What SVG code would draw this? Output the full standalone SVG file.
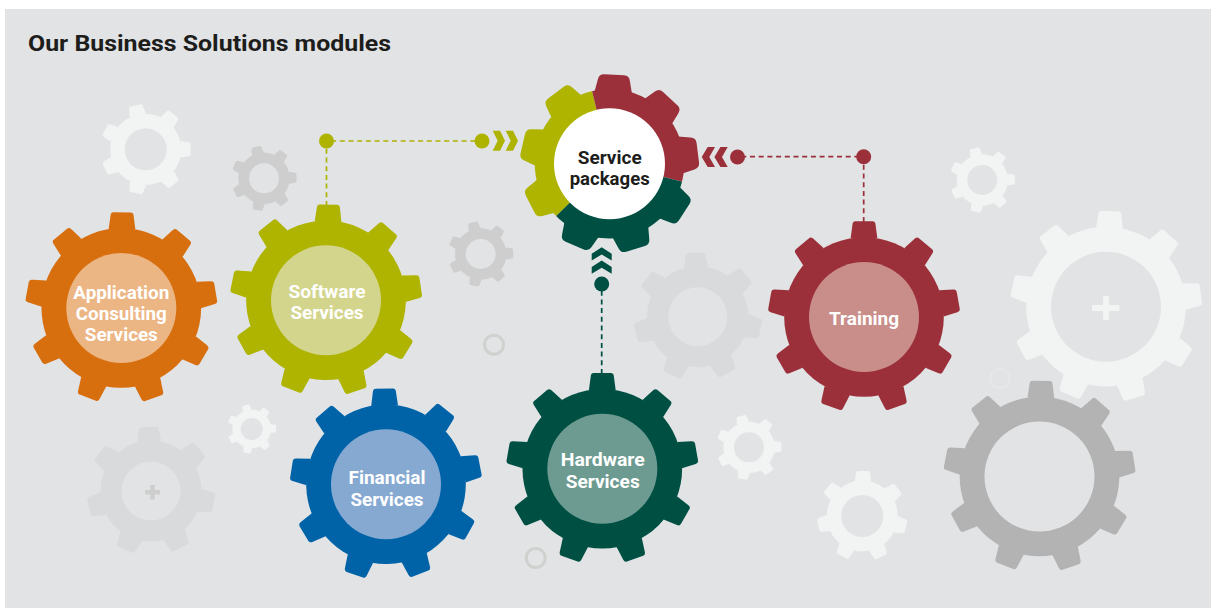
<svg xmlns="http://www.w3.org/2000/svg" width="1211" height="608" viewBox="0 0 1211 608">
<style>
text{font-family:Roboto,"Liberation Sans",sans-serif;font-weight:700;text-anchor:middle;fill:#fff;font-size:18.500px}
.dark{fill:#1d1d1b}
.title{text-anchor:start;font-size:22.500px;fill:#1d1d1b}
.hole{fill:#e1e3e5}
.ring{fill:none;stroke-width:3}
.lnk{fill:none;stroke-width:1.7;stroke-dasharray:5 3.7}
.w{fill:#f2f3f3}.g1{fill:#cdcecd}.g2{fill:#d9dadb}.g3{fill:#b3b3b3}
</style>
<defs>
<path id="t9" d="M-14-82L-12-97Q-11.600-100-9-100L9-100Q11.600-100 12-97L14-82Z"/>
<g id="gear9"><circle r="83.400"/><use href="#t9"/><use href="#t9" transform="rotate(40)"/><use href="#t9" transform="rotate(80)"/><use href="#t9" transform="rotate(120)"/><use href="#t9" transform="rotate(160)"/><use href="#t9" transform="rotate(200)"/><use href="#t9" transform="rotate(240)"/><use href="#t9" transform="rotate(280)"/><use href="#t9" transform="rotate(320)"/></g>
<path id="tS" d="M-21-80L-18-94Q-17-100-11-100L11-100Q17-100 18-94L21-80Z"/>
<g id="gearS"><circle r="84"/><use href="#tS"/><use href="#tS" transform="rotate(40)"/><use href="#tS" transform="rotate(80)"/><use href="#tS" transform="rotate(120)"/><use href="#tS" transform="rotate(160)"/><use href="#tS" transform="rotate(200)"/><use href="#tS" transform="rotate(240)"/><use href="#tS" transform="rotate(280)"/><use href="#tS" transform="rotate(320)"/></g>
<path id="t7" d="M-18.500-77L-15.500-96Q-15-100-11-100L11-100Q15-100 15.500-96L18.500-77Z"/>
<g id="gear7"><circle r="79"/><use href="#t7"/><use href="#t7" transform="rotate(51.430)"/><use href="#t7" transform="rotate(102.860)"/><use href="#t7" transform="rotate(154.290)"/><use href="#t7" transform="rotate(205.710)"/><use href="#t7" transform="rotate(257.140)"/><use href="#t7" transform="rotate(308.570)"/></g>
<clipPath id="wOlive"><polygon points="0,0 -107,105 -192,-55 -35,-146"/></clipPath>
<clipPath id="wRed"><polygon points="0,0 -35,-146 142,-141 146,36"/></clipPath>
<clipPath id="wGreen"><polygon points="0,0 146,36 53,193 -107,105"/></clipPath>
<path id="chevR" d="M0-10H7.300L12.300 0 7.300 10H0L5 0Z"/>
<path id="chevL" d="M0-10H-7.300L-13.300 0-7.300 10H0L-5.700 0Z"/>
<path id="chevU" d="M0-6.500L10 0V6.700L0 .7-10 6.700V0Z"/>
</defs>
<rect x="5" y="9" width="1206" height="599" fill="#e1e3e5"/>
<text class="title" x="28" y="51" textLength="363" lengthAdjust="spacingAndGlyphs">Our Business Solutions modules</text>

<g id="background-gears">
<g class="w"><use href="#gear7" transform="translate(145.700,149.300) rotate(-13) scale(.45)"/></g><circle class="hole" cx="145.700" cy="149.300" r="21"/>
<g class="g1"><use href="#gear7" transform="translate(264,178.300) rotate(-14) scale(.325)"/></g><circle class="hole" cx="264" cy="178.300" r="15"/>
<g class="g1"><use href="#gear7" transform="translate(480.700,254) rotate(-14) scale(.325)"/></g><circle class="hole" cx="480.700" cy="254" r="15"/>
<g class="g2"><use href="#gear7" transform="translate(697.700,316.700) rotate(-2) scale(.64)"/></g><circle class="hole" cx="697.700" cy="316.700" r="29.500"/>
<g class="g2"><use href="#gear7" transform="translate(151,491) rotate(-2) scale(.64)"/></g><circle class="hole" cx="151" cy="491" r="29.500"/>
<path class="g1" d="M150.300 485h4.400v5h5.200v4.400h-5.200v5h-4.400v-5h-5.200v-4.400h5.200z"/>
<g class="w"><use href="#gear7" transform="translate(251.700,429) rotate(-14) scale(.245)"/></g><circle class="hole" cx="251.700" cy="429" r="11"/>
<g class="w"><use href="#gear7" transform="translate(749,447.300) rotate(-14) scale(.325)"/></g><circle class="hole" cx="749" cy="447.300" r="15"/>
<g class="w"><use href="#gear7" transform="translate(862.300,516) rotate(1) scale(.45)"/></g><circle class="hole" cx="862.300" cy="516" r="21"/>
<g class="w"><use href="#gear7" transform="translate(982.300,180) rotate(-14) scale(.325)"/></g><circle class="hole" cx="982.300" cy="180" r="15"/>
<circle cx="1000" cy="378.300" r="9.500" fill="none" stroke="#e7e8ea" stroke-width="2"/>
<g class="w"><use href="#gear9" transform="translate(1106,306.700) rotate(2.500) scale(.957)"/></g><circle class="hole" cx="1106" cy="306.700" r="55"/>
<path class="w" d="M1103 296h6v9h10.500v6h-10.500v9h-6v-9h-11v-6h11z"/>
<g class="g3"><use href="#gear9" transform="translate(1039.500,476.500) rotate(1) scale(.957)"/></g><circle class="hole" cx="1039.500" cy="476.500" r="55"/>
<circle class="ring" cx="494" cy="344.700" r="9.500" stroke="#d0d0ce"/>
<circle class="ring" cx="535.700" cy="558" r="9.500" stroke="#d0d0ce"/>
</g>

<g id="connectors">
<g id="link-software" fill="#aeb300">
<path class="lnk" stroke="#aeb300" d="M326.500 206V141H482"/>
<circle cx="326.500" cy="141" r="7.500"/><circle cx="482" cy="141" r="7.500"/>
<use href="#chevR" transform="translate(492.700,140.700)"/><use href="#chevR" transform="translate(505.700,140.700)"/>
</g>
<g id="link-training" fill="#9b303a">
<path class="lnk" stroke="#9b303a" d="M863.700 222V156.700H737.500"/>
<circle cx="863.700" cy="156.700" r="7.500"/><circle cx="737.500" cy="157" r="7.500"/>
<use href="#chevL" transform="translate(715,157)"/><use href="#chevL" transform="translate(727.700,157)"/>
</g>
<g id="link-hardware" fill="#004f43">
<path class="lnk" stroke="#004f43" d="M601.700 374V284"/>
<circle cx="601.700" cy="284" r="7.500"/>
<use href="#chevU" transform="translate(601.700,253.800)"/><use href="#chevU" transform="translate(601.700,267.100)"/>
</g>
</g>

<g id="node-application"><g fill="#d86f0e"><use href="#gear9" transform="translate(121.300,308) rotate(.5) scale(.957)"/></g><circle cx="121.300" cy="308" r="55" fill="#ecb584"/>
<text x="121.300" y="299" textLength="96" lengthAdjust="spacingAndGlyphs">Application</text><text x="121.300" y="320" textLength="91" lengthAdjust="spacingAndGlyphs">Consulting</text><text x="121.300" y="341" textLength="73" lengthAdjust="spacingAndGlyphs">Services</text></g>

<g id="node-software"><g fill="#aeb400"><use href="#gear9" transform="translate(326,300.300) rotate(1.500) scale(.957)"/></g><circle cx="326" cy="300.300" r="55" fill="#d3d58d"/>
<text x="327" y="298" textLength="77" lengthAdjust="spacingAndGlyphs">Software</text><text x="327" y="319" textLength="73" lengthAdjust="spacingAndGlyphs">Services</text></g>

<g id="node-financial"><g fill="#0063a8"><use href="#gear9" transform="translate(386,484.300) rotate(-1) scale(.957)"/></g><circle cx="386" cy="484.300" r="55" fill="#86a9d2"/>
<text x="387" y="484" textLength="77" lengthAdjust="spacingAndGlyphs">Financial</text><text x="387" y="505.700" textLength="73" lengthAdjust="spacingAndGlyphs">Services</text></g>

<g id="node-hardware"><g fill="#004f43"><use href="#gear9" transform="translate(602.300,468.700) scale(.957)"/></g><circle cx="602.300" cy="468.700" r="55" fill="#6d9b91"/>
<text x="602.700" y="466" textLength="84" lengthAdjust="spacingAndGlyphs">Hardware</text><text x="602.700" y="487.700" textLength="74" lengthAdjust="spacingAndGlyphs">Services</text></g>

<g id="node-training"><g fill="#9b303a"><use href="#gear9" transform="translate(864,317) scale(.957)"/></g><circle cx="864" cy="317" r="55" fill="#c98e8a"/>
<text x="864" y="325" textLength="70" lengthAdjust="spacingAndGlyphs">Training</text></g>

<g id="node-service-packages"><g transform="translate(609.500,163.700)">
<g clip-path="url(#wOlive)" fill="#aeb400"><use href="#gearS" transform="rotate(3) scale(.89)"/></g>
<g clip-path="url(#wRed)" fill="#9b303a"><use href="#gearS" transform="rotate(3) scale(.89)"/></g>
<g clip-path="url(#wGreen)" fill="#004f43"><use href="#gearS" transform="rotate(3) scale(.89)"/></g>
<circle r="55.500" fill="#fff"/></g>
<text class="dark" x="609.700" y="164" textLength="64" lengthAdjust="spacingAndGlyphs">Service</text><text class="dark" x="609.700" y="185" textLength="80" lengthAdjust="spacingAndGlyphs">packages</text></g>
</svg>
